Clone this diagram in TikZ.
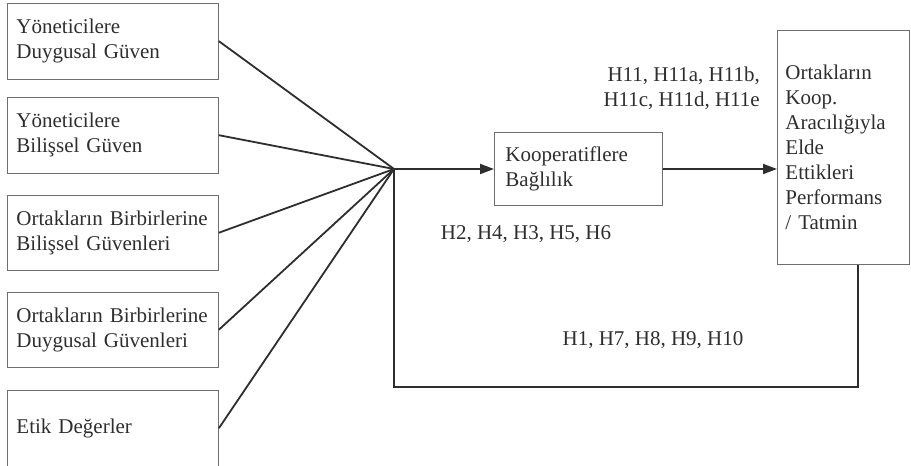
\documentclass[tikz,border=0pt]{standalone}
\usepackage{fontspec}
\setmainfont{Liberation Serif}
\usetikzlibrary{arrows.meta}
\definecolor{ink}{HTML}{2E2E2E}
\definecolor{frame}{HTML}{6E6E6E}
\tikzset{
  txt/.style={font=\fontsize{21}{25}\selectfont, text=ink},
  srcbox/.style={txt, draw=frame, line width=0.9pt, anchor=north west,
    minimum width=211pt, minimum height=75.5pt, text width=193pt,
    inner xsep=9pt, inner ysep=0pt, align=left},
  midbox/.style={txt, draw=frame, line width=0.9pt, anchor=north west,
    minimum width=168pt, minimum height=73pt, text width=146pt,
    inner xsep=11pt, inner ysep=0pt, align=left},
  outbox/.style={txt, draw=frame, line width=0.9pt, anchor=north west,
    minimum width=132pt, minimum height=234pt, text width=116pt,
    inner xsep=8pt, inner ysep=0pt, align=left},
  link/.style={draw=ink, line width=1.8pt},
  flow/.style={link, -{Triangle[length=14pt,width=10pt]}},
  lbl/.style={txt, inner sep=0pt}
}
\begin{document}
\begin{tikzpicture}[x=1pt,y=-1pt]
  \useasboundingbox (0,0) rectangle (911,466);

  % independent variables
  \node[srcbox] (s1) at (7,3)   {Yöneticilere\\Duygusal Güven};
  \node[srcbox] (s2) at (7,97)  {Yöneticilere\\Bilişsel Güven};
  \node[srcbox] (s3) at (7,194.5) {Ortakların Birbirlerine\\Bilişsel Güvenleri};
  \node[srcbox] (s4) at (7,291.5) {Ortakların Birbirlerine\\Duygusal Güvenleri};
  \node[srcbox] (s5) at (7,390) {Etik Değerler};

  % mediator and outcome
  \node[midbox] (mid) at (494,132) {Kooperatiflere\\Bağlılık};
  \node[outbox] (out) at (777,30) {Ortakların\\Koop.\\Aracılığıyla\\Elde\\Ettikleri\\Performans\\/ Tatmin};

  % junction of all inputs
  \coordinate (hub) at (394,169);
  \coordinate (fbR) at (858,387);

  \foreach \s in {s1,s2,s3,s4,s5}
    \draw[link] (\s.east) -- (hub);

  \draw[flow] (hub) -- (hub -| mid.west);
  \draw[flow] (mid.east |- hub) -- (hub -| out.west);
  \draw[link] (hub) |- (fbR) -- (fbR |- out.south);

  % hypothesis labels
  \node[lbl, align=right, anchor=east] (hA) at (760,88) {H11, H11a, H11b,\\H11c, H11d, H11e};
  \node[lbl] (hB) at (526,234) {H2, H4, H3, H5, H6};
  \node[lbl] (hC) at (653,340) {H1, H7, H8, H9, H10};
\end{tikzpicture}
\end{document}
